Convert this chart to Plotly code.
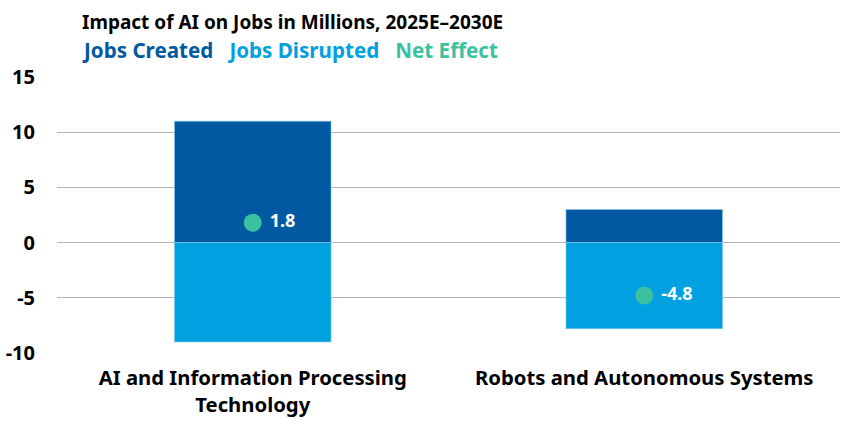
import plotly.graph_objects as go

categories = ["AI and Information Processing<br>Technology", "Robots and Autonomous Systems"]
jobs_created = [11.0, 3.0]
jobs_disrupted = [-9.0, -7.8]
net_effect = [1.8, -4.8]
net_labels = ["1.8", "-4.8"]
y_ticks = [-10, -5, 0, 5, 10, 15]
y_tick_labels = ["-10", "-5", "0", "5", "10", "15"]

C_CREATED = "#0059A1"
C_DISRUPTED = "#00A0E1"
C_NET = "#3CC1A0"
FONT = "Noto Sans"

fig = go.Figure()
fig.add_trace(go.Bar(x=[0, 1], y=jobs_created, name="Jobs Created", width=0.4,
                     marker=dict(color=C_CREATED, line=dict(color="#8ccbed", width=0.6))))
fig.add_trace(go.Bar(x=[0, 1], y=jobs_disrupted, name="Jobs Disrupted", width=0.4,
                     marker=dict(color=C_DISRUPTED, line=dict(color="#8ccbed", width=0.6))))
fig.add_trace(go.Scatter(x=[0, 1], y=net_effect, name="Net Effect", mode="markers+text",
                         marker=dict(color=C_NET, size=18),
                         text=[" " + t for t in net_labels], textposition="middle right",
                         textfont=dict(family=FONT, size=18, color="white", weight="bold")))

W, H = 865, 427
l, r, t, b = 57, 25, 77, 74
pw, ph = W - l - r, H - t - b

fig.update_layout(
    barmode="relative",
    width=W, height=H,
    margin=dict(l=l, r=r, t=t, b=b, autoexpand=False),
    paper_bgcolor="white", plot_bgcolor="white",
    showlegend=False,
    font=dict(family=FONT, color="black"),
    xaxis=dict(range=[-0.5, 1.5], tickvals=[0, 1], ticktext=categories,
               showgrid=False, zeroline=False, showline=False, automargin=False,
               tickfont=dict(family=FONT, size=20.3, color="black", weight="bold"),
               ticklabelstandoff=11),
    yaxis=dict(range=[-10, 15], tickvals=y_ticks, ticktext=y_tick_labels,
               showgrid=True, gridcolor="#b4b4b8",
               gridwidth=1.2, zeroline=True, zerolinecolor="#b4b4b8", zerolinewidth=1.2,
               showline=False, automargin=False,
               tickfont=dict(family=FONT, size=20, color="black", weight="bold"),
               ticklabelstandoff=21),
)

header = [
    ("Impact of AI on Jobs in Millions, 2025E–2030E", 22, 19),
    ((f"<span style='color:{C_CREATED}'>Jobs Created</span>&nbsp;&nbsp;&nbsp;"
      f"<span style='color:{C_DISRUPTED}'>Jobs Disrupted</span>&nbsp;&nbsp;&nbsp;"
      f"<span style='color:{C_NET}'>Net Effect</span>"), 50, 20.6),
]
for text, ypx, sz in header:
    fig.add_annotation(text=text, x=(80 - l) / pw, y=(H - b - ypx) / ph,
                       xref="paper", yref="paper", showarrow=False,
                       xanchor="left", yanchor="middle",
                       font=dict(family=FONT, size=sz, color="black", weight="bold"))

fig.write_html("out.html", config={"displayModeBar": False},
               post_script="document.body.style.margin='0';document.body.style.padding='0';")
